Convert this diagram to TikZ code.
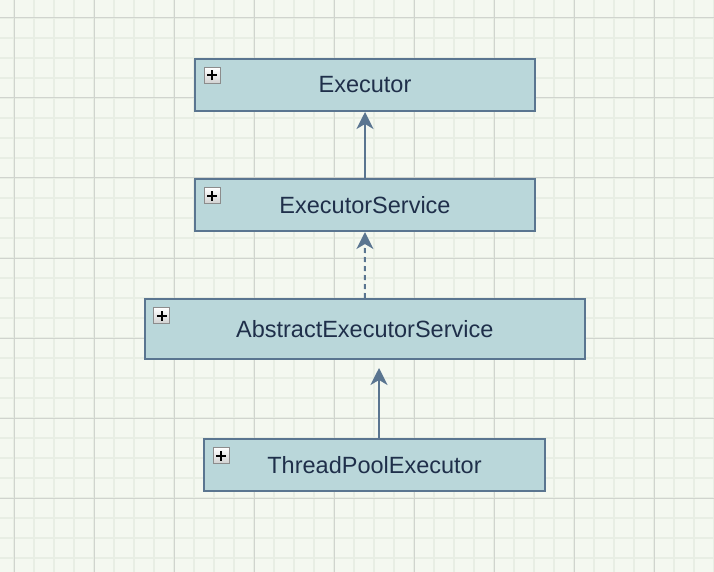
\documentclass[tikz,border=0pt]{standalone}
\usepackage{tikz}
\usepackage{fontspec}
\setmainfont{Liberation Sans}
\usetikzlibrary{arrows.meta}
\definecolor{bg}{RGB}{244, 248, 240}
\definecolor{gm}{RGB}{232, 238, 228}
\definecolor{gg}{RGB}{208, 212, 206}
\definecolor{bf}{RGB}{186, 215, 218}
\definecolor{bd}{RGB}{90, 117, 144}
\definecolor{tx}{RGB}{31, 47, 74}
\definecolor{pg}{RGB}{140, 140, 140}

\tikzset{
  cls/.style={rectangle, fill=bf, draw=bd, line width=2pt, text=tx, inner sep=0pt,
    font=\fontsize{23.5}{28}\selectfont},
  plusbox/.style={rectangle, minimum size=16pt, inner sep=0pt, draw=pg, line width=1pt,
    top color=white, bottom color=pg!40,
    path picture={\draw[line width=2pt, black]
      ([xshift=-5pt]path picture bounding box.center) -- ([xshift=5pt]path picture bounding box.center)
      ([yshift=-5pt]path picture bounding box.center) -- ([yshift=5pt]path picture bounding box.center);}},
  inh/.style={line width=2pt, color=bd, -{Stealth[length=17pt, width=17pt, inset=5pt]}},
}

\begin{document}
\begin{tikzpicture}
\useasboundingbox (0pt, 0pt) rectangle (714pt, -572pt);
\fill[bg] (0pt, 0pt) rectangle (714pt, -572pt);
\begin{scope}[shift={(14pt, -18pt)}]
\draw[gm, line width=2pt, step=20pt] (-20pt, 20pt) grid (720pt, -580pt);
\draw[gg, line width=1pt, step=80pt] (-20pt, 20pt) grid (720pt, -580pt);
\end{scope}
\node (1) [cls, minimum width=340pt, minimum height=52pt] at (365.0pt, -85.0pt) {Executor};
\node (2) [cls, minimum width=340pt, minimum height=52pt] at (365.0pt, -205.0pt) {ExecutorService};
\node (3) [cls, minimum width=440pt, minimum height=60pt] at (364.75pt, -329.0pt) {AbstractExecutorService};
\node (4) [cls, minimum width=341pt, minimum height=52pt] at (374.5pt, -465.0pt) {ThreadPoolExecutor};
\node (p1) [plusbox] at ([xshift=18pt, yshift=-17.5pt]1.north west) {};
\node (p2) [plusbox] at ([xshift=18pt, yshift=-17.5pt]2.north west) {};
\node (p3) [plusbox] at ([xshift=18pt, yshift=-17.5pt]3.north west) {};
\node (p4) [plusbox] at ([xshift=18pt, yshift=-17.5pt]4.north west) {};
\coordinate (g) at (379.0pt, -368.0pt);
\draw [inh] (2.north) to (1.south);
\draw [inh, dash pattern=on 5pt off 4pt] (3.north) to (2.south);
\draw [inh] (4.north -| g) to (g);
\end{tikzpicture}
\end{document}
